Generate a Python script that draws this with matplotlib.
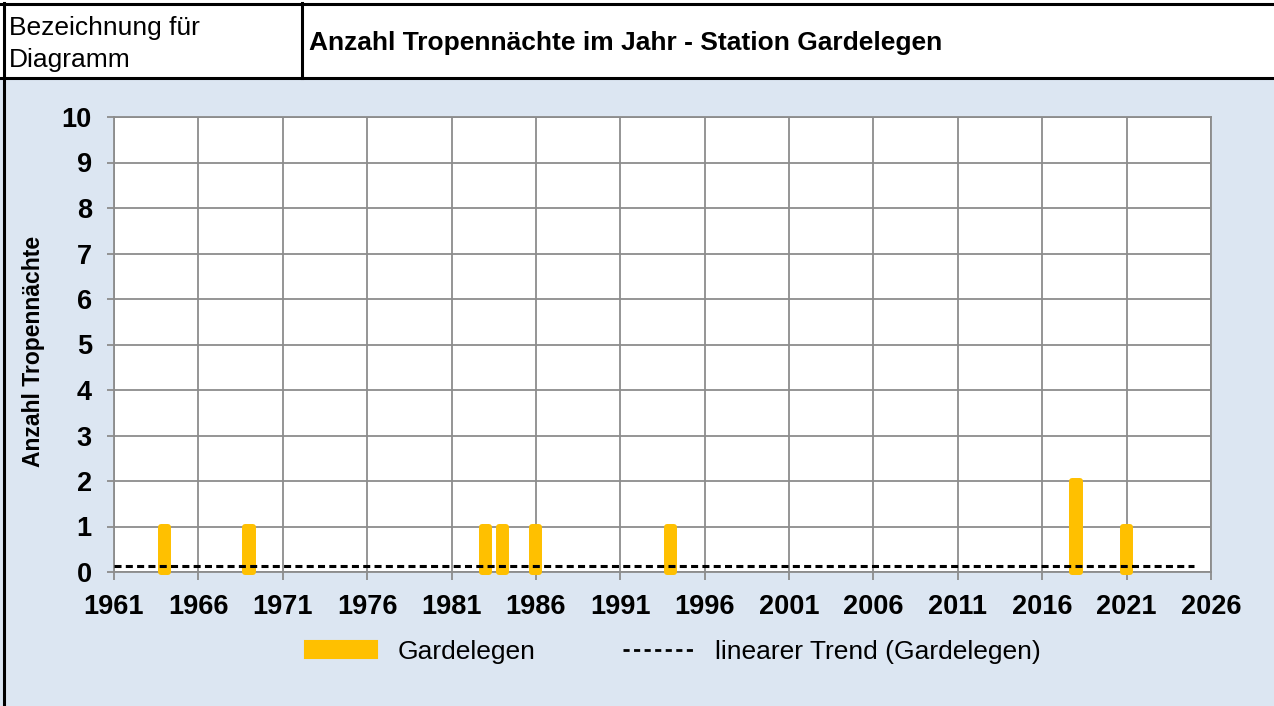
import numpy as np
import matplotlib
matplotlib.use("Agg")
import matplotlib.pyplot as plt
from matplotlib.lines import Line2D
from matplotlib.patches import Patch, Rectangle

plt.rcParams['font.family'] = ['Liberation Sans', 'DejaVu Sans']

# ---- data ----
event_years = [1964, 1969, 1983, 1984, 1986, 1994, 2018, 2021]
event_counts = [1, 1, 1, 1, 1, 1, 2, 1]
first_year, last_year = 1961, 2025
x_ticks = [1961, 1966, 1971, 1976, 1981, 1986, 1991, 1996, 2001, 2006, 2011, 2016, 2021, 2026]
y_ticks = list(range(0, 11))
title = "Anzahl Tropennächte im Jahr - Station Gardelegen"
header_label = "Bezeichnung für\nDiagramm"
y_label = "Anzahl Tropennächte"
series_name = "Gardelegen"
trend_name = "linearer Trend (Gardelegen)"

# linear trend over full period (zeros in years without events)
all_years = np.arange(first_year, last_year + 1)
all_vals = np.zeros(len(all_years))
for y, c in zip(event_years, event_counts):
    all_vals[all_years == y] = c
slope, intercept = np.polyfit(all_years, all_vals, 1)
trend_x = np.array([first_year, last_year])
trend_y = slope * trend_x + intercept

W, H = 1274, 706
fig = plt.figure(figsize=(W / 100, H / 100), dpi=100)
fig.patch.set_facecolor('white')

def fx(px):
    return px / W

def fy(py):
    return 1 - py / H

# blue panel
fig.patches.append(Rectangle((0, 0), 1, fy(79), transform=fig.transFigure,
                             facecolor='#DCE6F2', edgecolor='none', zorder=-5))
# header lines
lw_b = 2.2
fig.add_artist(Line2D([0, 1], [fy(4), fy(4)], color='black', lw=lw_b, transform=fig.transFigure))
fig.add_artist(Line2D([0, 1], [fy(78), fy(78)], color='black', lw=lw_b, transform=fig.transFigure))
fig.add_artist(Line2D([fx(4), fx(4)], [0, fy(3)], color='black', lw=lw_b, transform=fig.transFigure))
fig.add_artist(Line2D([fx(302), fx(302)], [fy(78), fy(3)], color='black', lw=lw_b, transform=fig.transFigure))

fig.text(fx(9), fy(44), header_label, fontsize=19, va='center', ha='left', linespacing=1.4)
fig.text(fx(309), fy(43), title, fontsize=19, fontweight='bold', va='center', ha='left')

# axes
ax = fig.add_axes([fx(114), fy(572), fx(1211) - fx(114), fy(117) - fy(572)])
ax.set_zorder(2)
ax.set_facecolor('white')
grid_c = '#8C8C8C'
bar_c = '#FFC000'
ax.bar(event_years, event_counts, width=0.42, color=bar_c,
       edgecolor=bar_c, linewidth=4.3, joinstyle='round', zorder=3, clip_on=False)
ax.plot(trend_x, trend_y, color='black', lw=2.2, linestyle=(0, (2.3, 1.4)), zorder=4)

ax.set_xlim(1961, 2026)
ax.set_ylim(0, 10)
ax.set_xticks(x_ticks)
ax.set_yticks(y_ticks)
ax.grid(True, color=grid_c, lw=1.3, zorder=0)
ax.set_axisbelow(True)
for s in ax.spines.values():
    s.set_color(grid_c)
    s.set_linewidth(1.3)
ax.tick_params(axis='both', colors=grid_c, width=1.3, labelcolor='black')
ax.tick_params(axis='x', length=6, pad=9.5)
ax.tick_params(axis='y', length=5, pad=11)
for lab in ax.get_xticklabels() + ax.get_yticklabels():
    lab.set_fontweight('bold')
    lab.set_fontsize(19.5)

fig.text(fx(34), fy(351), y_label, rotation=90, fontsize=16.5, fontweight='bold',
         ha='center', va='center')

handles = [Patch(facecolor=bar_c, edgecolor=bar_c, joinstyle='round', linewidth=1.5),
           Line2D([0], [0], color='black', lw=2.0, linestyle=(0, (2.2, 1.6)))]
fig.legend(handles, [series_name, trend_name], loc='center',
           bbox_to_anchor=(fx(673), fy(652)), ncol=2, frameon=False,
           fontsize=19, handlelength=2.7, handleheight=0.62, handletextpad=0.8,
           columnspacing=3.3)

fig.savefig('out.png', dpi=100, facecolor=fig.get_facecolor())
